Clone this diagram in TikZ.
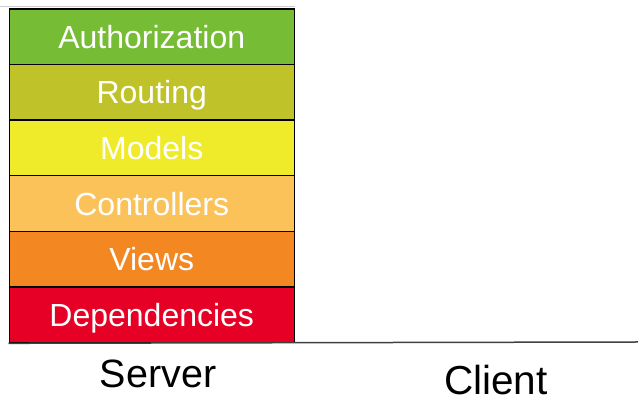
\documentclass[tikz,border=0pt]{standalone}
\usepackage{fontspec}
\setmainfont{Liberation Sans}
\definecolor{cauth}{HTML}{76BC35}
\definecolor{crout}{HTML}{C0C22A}
\definecolor{cmod}{HTML}{F0EB2A}
\definecolor{cctrl}{HTML}{FBC25A}
\definecolor{cview}{HTML}{F38822}
\definecolor{cdep}{HTML}{E60026}
\begin{document}
\begin{tikzpicture}[x=1pt,y=1pt,
  layer/.style={draw=black,line width=1.5pt,minimum width=285pt,minimum height=55.6pt,
    inner sep=0pt,text=white,font=\fontsize{32}{36}\selectfont,anchor=north west,
    text depth=0pt},
  lbl/.style={text=black,inner sep=0pt,anchor=base,text depth=0pt}]
\useasboundingbox (0,0) rectangle (638,398);
\draw[gray!40,line width=1pt] (0,391.5) -- (295,391.5);
\node[layer,fill=cdep]   (dep)  at (8.5,111.8) {Dependencies};
\node[layer,fill=cview]  (view) at (8.5,167.4) {Views};
\node[layer,fill=cctrl]  (ctrl) at (8.5,223.0) {Controllers};
\node[layer,fill=cmod]   (mod)  at (8.5,278.6) {Models};
\node[layer,fill=crout]  (rout) at (8.5,334.2) {Routing};
\node[layer,fill=cauth]  (auth) at (8.5,389.8) {Authorization};
\coordinate (bend) at (638,56);
\draw[black!75,line width=1.5pt] (dep.south west) -- (bend);
\node[lbl,font=\fontsize{39.5}{44}\selectfont] (server) at (158,10) {Server};
\node[lbl,font=\fontsize{40.5}{44}\selectfont] (client) at (496,3.5) {Client};
\end{tikzpicture}
\end{document}
